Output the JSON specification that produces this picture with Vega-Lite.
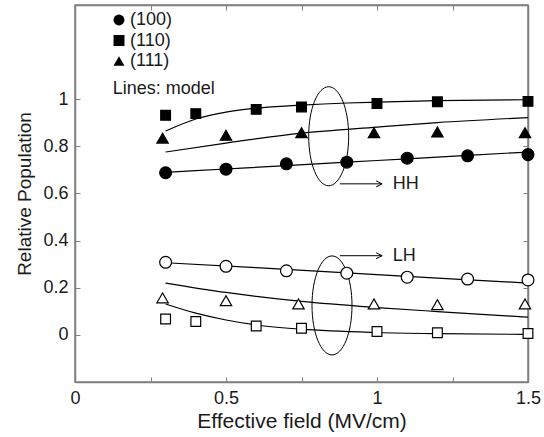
{
  "$schema": "https://vega.github.io/schema/vega-lite/v6.json",
  "width": 453,
  "height": 377,
  "autosize": "none",
  "padding": {"left": 75, "top": 5, "right": 16, "bottom": 55},
  "background": "white",
  "config": {
    "font": "Liberation Sans",
    "view": {"stroke": "#808080", "strokeWidth": 1.5},
    "axis": {
      "domainColor": "#808080", "domainWidth": 1.5,
      "tickColor": "#808080", "tickWidth": 1, "tickSize": -5,
      "grid": false,
      "labelFont": "Liberation Sans", "labelFontSize": 18, "labelColor": "#1a1a1a",
      "titleFont": "Liberation Sans", "titleFontSize": 19, "titleFontWeight": "normal", "titleColor": "#1a1a1a"
    },
    "text": {"font": "Liberation Sans"}
  },
  "datasets": {
    "obs": [
      {"field": 0.3, "pop": 0.688, "orient": "(100)", "band": "HH"},
      {"field": 0.5, "pop": 0.703, "orient": "(100)", "band": "HH"},
      {"field": 0.7, "pop": 0.726, "orient": "(100)", "band": "HH"},
      {"field": 0.9, "pop": 0.733, "orient": "(100)", "band": "HH"},
      {"field": 1.1, "pop": 0.750, "orient": "(100)", "band": "HH"},
      {"field": 1.3, "pop": 0.760, "orient": "(100)", "band": "HH"},
      {"field": 1.5, "pop": 0.765, "orient": "(100)", "band": "HH"},
      {"field": 0.3, "pop": 0.932, "orient": "(110)", "band": "HH"},
      {"field": 0.4, "pop": 0.939, "orient": "(110)", "band": "HH"},
      {"field": 0.6, "pop": 0.957, "orient": "(110)", "band": "HH"},
      {"field": 0.75, "pop": 0.967, "orient": "(110)", "band": "HH"},
      {"field": 1.0, "pop": 0.982, "orient": "(110)", "band": "HH"},
      {"field": 1.2, "pop": 0.989, "orient": "(110)", "band": "HH"},
      {"field": 1.5, "pop": 0.991, "orient": "(110)", "band": "HH"},
      {"field": 0.29, "pop": 0.835, "orient": "(111)", "band": "HH"},
      {"field": 0.5, "pop": 0.847, "orient": "(111)", "band": "HH"},
      {"field": 0.75, "pop": 0.858, "orient": "(111)", "band": "HH"},
      {"field": 0.99, "pop": 0.858, "orient": "(111)", "band": "HH"},
      {"field": 1.2, "pop": 0.861, "orient": "(111)", "band": "HH"},
      {"field": 1.49, "pop": 0.858, "orient": "(111)", "band": "HH"},
      {"field": 0.3, "pop": 0.308, "orient": "(100)", "band": "LH"},
      {"field": 0.5, "pop": 0.291, "orient": "(100)", "band": "LH"},
      {"field": 0.7, "pop": 0.272, "orient": "(100)", "band": "LH"},
      {"field": 0.9, "pop": 0.262, "orient": "(100)", "band": "LH"},
      {"field": 1.1, "pop": 0.245, "orient": "(100)", "band": "LH"},
      {"field": 1.3, "pop": 0.237, "orient": "(100)", "band": "LH"},
      {"field": 1.5, "pop": 0.233, "orient": "(100)", "band": "LH"},
      {"field": 0.3, "pop": 0.067, "orient": "(110)", "band": "LH"},
      {"field": 0.4, "pop": 0.057, "orient": "(110)", "band": "LH"},
      {"field": 0.6, "pop": 0.038, "orient": "(110)", "band": "LH"},
      {"field": 0.75, "pop": 0.028, "orient": "(110)", "band": "LH"},
      {"field": 1.0, "pop": 0.014, "orient": "(110)", "band": "LH"},
      {"field": 1.2, "pop": 0.009, "orient": "(110)", "band": "LH"},
      {"field": 1.5, "pop": 0.006, "orient": "(110)", "band": "LH"},
      {"field": 0.29, "pop": 0.157, "orient": "(111)", "band": "LH"},
      {"field": 0.5, "pop": 0.145, "orient": "(111)", "band": "LH"},
      {"field": 0.74, "pop": 0.131, "orient": "(111)", "band": "LH"},
      {"field": 0.99, "pop": 0.131, "orient": "(111)", "band": "LH"},
      {"field": 1.2, "pop": 0.128, "orient": "(111)", "band": "LH"},
      {"field": 1.49, "pop": 0.131, "orient": "(111)", "band": "LH"}
    ],
    "model": [
      {"field": 0.3, "pop": 0.690, "series": "HH100"},
      {"field": 0.5, "pop": 0.704, "series": "HH100"},
      {"field": 0.7, "pop": 0.718, "series": "HH100"},
      {"field": 0.9, "pop": 0.733, "series": "HH100"},
      {"field": 1.1, "pop": 0.747, "series": "HH100"},
      {"field": 1.3, "pop": 0.762, "series": "HH100"},
      {"field": 1.5, "pop": 0.776, "series": "HH100"},
      {"field": 0.3, "pop": 0.865, "series": "HH110"},
      {"field": 0.4, "pop": 0.916, "series": "HH110"},
      {"field": 0.5, "pop": 0.945, "series": "HH110"},
      {"field": 0.6, "pop": 0.962, "series": "HH110"},
      {"field": 0.75, "pop": 0.975, "series": "HH110"},
      {"field": 0.9, "pop": 0.984, "series": "HH110"},
      {"field": 1.0, "pop": 0.988, "series": "HH110"},
      {"field": 1.2, "pop": 0.994, "series": "HH110"},
      {"field": 1.5, "pop": 0.998, "series": "HH110"},
      {"field": 0.3, "pop": 0.776, "series": "HH111"},
      {"field": 0.5, "pop": 0.814, "series": "HH111"},
      {"field": 0.75, "pop": 0.856, "series": "HH111"},
      {"field": 1.0, "pop": 0.882, "series": "HH111"},
      {"field": 1.2, "pop": 0.901, "series": "HH111"},
      {"field": 1.5, "pop": 0.922, "series": "HH111"},
      {"field": 0.3, "pop": 0.306, "series": "LH100"},
      {"field": 0.6, "pop": 0.285, "series": "LH100"},
      {"field": 0.9, "pop": 0.263, "series": "LH100"},
      {"field": 1.2, "pop": 0.241, "series": "LH100"},
      {"field": 1.5, "pop": 0.220, "series": "LH100"},
      {"field": 0.3, "pop": 0.220, "series": "LH111"},
      {"field": 0.5, "pop": 0.180, "series": "LH111"},
      {"field": 0.75, "pop": 0.142, "series": "LH111"},
      {"field": 1.0, "pop": 0.116, "series": "LH111"},
      {"field": 1.2, "pop": 0.099, "series": "LH111"},
      {"field": 1.5, "pop": 0.075, "series": "LH111"},
      {"field": 0.3, "pop": 0.131, "series": "LH110"},
      {"field": 0.4, "pop": 0.092, "series": "LH110"},
      {"field": 0.5, "pop": 0.063, "series": "LH110"},
      {"field": 0.6, "pop": 0.042, "series": "LH110"},
      {"field": 0.75, "pop": 0.024, "series": "LH110"},
      {"field": 1.0, "pop": 0.010, "series": "LH110"},
      {"field": 1.2, "pop": 0.005, "series": "LH110"},
      {"field": 1.5, "pop": 0.002, "series": "LH110"}
    ],
    "ellipses": [
      {"field": 0.84, "pop": 0.843, "group": "HH"},
      {"field": 0.851, "pop": 0.125, "group": "LH"}
    ],
    "arrows": [
      {"field": 0.877, "field2": 1.017, "pop": 0.641, "group": "HH"},
      {"field": 0.877, "field2": 1.017, "pop": 0.336, "group": "LH"}
    ],
    "labels": [
      {"field": 1.052, "pop": 0.641, "label": "HH"},
      {"field": 1.052, "pop": 0.336, "label": "LH"},
      {"field": 0.125, "pop": 1.043, "label": "Lines: model"}
    ]
  },
  "layer": [
    {
      "data": {"name": "model"},
      "mark": {"type": "line", "color": "black", "strokeWidth": 1.2, "interpolate": "monotone"},
      "encoding": {
        "x": {"field": "field", "type": "quantitative",
              "scale": {"domain": [0, 1.5], "nice": false, "zero": false},
              "axis": {"orient": "bottom", "values": [0, 0.25, 0.5, 0.75, 1, 1.25, 1.5], "format": ".2~f",
                       "labelExpr": "(datum.value * 2) % 1 === 0 ? datum.label : ''",
                       "labelPadding": 12, "labelFlush": false, "labelOverlap": false,
                       "title": "Effective field (MV/cm)", "titleFontSize": 21, "titlePadding": 3}},
        "y": {"field": "pop", "type": "quantitative",
              "scale": {"domain": [-0.2, 1.4], "nice": false, "zero": false},
              "axis": {"orient": "left", "values": [0, 0.2, 0.4, 0.6, 0.8, 1], "format": ".1~f",
                       "labelPadding": 12, "labelFlush": false, "labelOverlap": false,
                       "title": "Relative Population", "titlePadding": 8}},
        "detail": {"field": "series", "type": "nominal"}
      }
    },
    {
      "data": {"name": "ellipses"},
      "mark": {"type": "point", "filled": false, "stroke": "black", "strokeWidth": 1, "opacity": 1, "size": 9801,
               "shape": "M0,-1C0.2231,-1 0.404,-0.5523 0.404,0C0.404,0.5523 0.2231,1 0,1C-0.2231,1 -0.404,0.5523 -0.404,0C-0.404,-0.5523 -0.2231,-1 0,-1Z"},
      "encoding": {
        "x": {"field": "field", "type": "quantitative",
              "axis": {"orient": "top", "values": [0, 0.25, 0.5, 0.75, 1, 1.25, 1.5], "labels": false, "title": null}},
        "y": {"field": "pop", "type": "quantitative",
              "axis": {"orient": "right", "values": [0, 0.2, 0.4, 0.6, 0.8, 1], "labels": false, "title": null}}
      }
    },
    {
      "data": {"name": "arrows"},
      "mark": {"type": "rule", "color": "black", "strokeWidth": 1},
      "encoding": {
        "x": {"field": "field", "type": "quantitative", "axis": null},
        "x2": {"field": "field2"},
        "y": {"field": "pop", "type": "quantitative", "axis": null}
      }
    },
    {
      "data": {"name": "arrows"},
      "mark": {"type": "point", "filled": false, "stroke": "black", "strokeWidth": 1, "opacity": 1, "size": 144,
               "shape": "M-1,-0.5L0,0L-1,0.5"},
      "encoding": {
        "x": {"field": "field2", "type": "quantitative", "axis": null},
        "y": {"field": "pop", "type": "quantitative", "axis": null}
      }
    },
    {
      "data": {"name": "obs"},
      "transform": [{"filter": "datum.orient === '(100)'"}],
      "mark": {"type": "point", "filled": true, "stroke": "black", "strokeWidth": 1.2, "opacity": 1, "size": 140},
      "encoding": {
        "x": {"field": "field", "type": "quantitative", "axis": null},
        "y": {"field": "pop", "type": "quantitative", "axis": null},
        "shape": {"field": "orient", "type": "nominal",
                  "scale": {"domain": ["(100)", "(110)", "(111)"], "range": ["circle", "square", "triangle-up"]},
                  "legend": {"title": null, "orient": "none", "legendX": 35, "legendY": 6, "padding": 0,
                             "labelFont": "Liberation Sans", "labelFontSize": 18, "labelColor": "#1a1a1a",
                             "symbolSize": 120, "symbolFillColor": "black", "symbolStrokeColor": "black",
                             "symbolStrokeWidth": 0, "rowPadding": 2.5, "labelOffset": 2}},
        "fill": {"field": "band", "type": "nominal",
                 "scale": {"domain": ["HH", "LH"], "range": ["black", "white"]}, "legend": null}
      }
    },
    {
      "data": {"name": "obs"},
      "transform": [{"filter": "datum.orient === '(110)'"}],
      "mark": {"type": "point", "filled": true, "stroke": "black", "strokeWidth": 1.2, "opacity": 1, "size": 95},
      "encoding": {
        "x": {"field": "field", "type": "quantitative", "axis": null},
        "y": {"field": "pop", "type": "quantitative", "axis": null},
        "shape": {"field": "orient", "type": "nominal"},
        "fill": {"field": "band", "type": "nominal", "legend": null}
      }
    },
    {
      "data": {"name": "obs"},
      "transform": [{"filter": "datum.orient === '(111)'"}],
      "mark": {"type": "point", "filled": true, "stroke": "black", "strokeWidth": 1.2, "opacity": 1, "size": 130},
      "encoding": {
        "x": {"field": "field", "type": "quantitative", "axis": null},
        "y": {"field": "pop", "type": "quantitative", "axis": null},
        "shape": {"field": "orient", "type": "nominal"},
        "fill": {"field": "band", "type": "nominal", "legend": null}
      }
    },
    {
      "data": {"name": "labels"},
      "mark": {"type": "text", "align": "left", "baseline": "middle", "fontSize": 18, "color": "#1a1a1a"},
      "encoding": {
        "x": {"field": "field", "type": "quantitative", "axis": null},
        "y": {"field": "pop", "type": "quantitative", "axis": null},
        "text": {"field": "label", "type": "nominal"}
      }
    }
  ],
  "resolve": {"axis": {"x": "independent", "y": "independent"}}
}
